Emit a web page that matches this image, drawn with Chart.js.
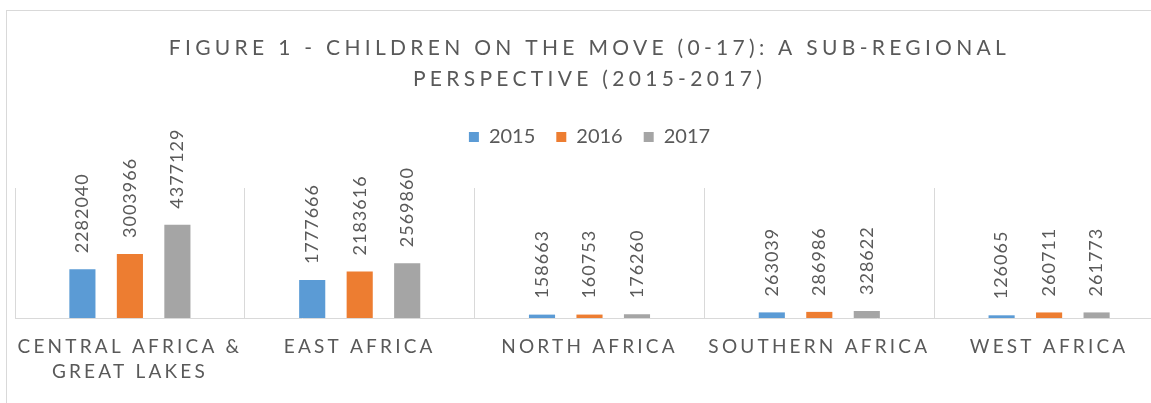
<!DOCTYPE html>
<html>
<head>
<meta charset="utf-8">
<script src="https://cdn.jsdelivr.net/npm/chart.js@4"></script>
<style>
  html, body { margin: 0; padding: 0; background: #fff; overflow: hidden; }
  .frame {
    position: absolute; left: 6px; top: 10px;
    width: 1200px; height: 450px;
    border: 1px solid #d9d9d9;
  }
  canvas { display: block; }
</style>
</head>
<body>
<div class="frame">
  <canvas id="chart" width="1165" height="392"></canvas>
</div>
<script>
const categories = [['CENTRAL AFRICA &', 'GREAT LAKES'], 'EAST AFRICA', 'NORTH AFRICA', 'SOUTHERN AFRICA', 'WEST AFRICA'];
const years = ['2015', '2016', '2017'];
const values2015 = [2282040, 1777666, 158663, 263039, 126065];
const values2016 = [3003966, 2183616, 160753, 286986, 260711];
const values2017 = [4377129, 2569860, 176260, 328622, 261773];
const colors = ['#5B9BD5', '#ED7D31', '#A5A5A5'];
const titleLines = ['FIGURE 1 - CHILDREN ON THE MOVE (0-17): A SUB-REGIONAL', 'PERSPECTIVE (2015-2017)'];

const FONT = 'Lato, "Open Sans", sans-serif';
const GREY = '#595959';

// letter spacing per box: the canvas api has it, chart.js options don't
const spacing = {
  id: 'spacing',
  beforeInit(chart) {
    const legend = chart.legend;
    const fit = legend.fit;
    legend.fit = function () { fit.call(this); this.height += 31; };
    const wrap = (box, px) => {
      const draw = box.draw;
      box.draw = function (...args) {
        const c = this.ctx;
        c.save();
        c.letterSpacing = px;
        draw.apply(this, args);
        c.restore();
      };
    };
    wrap(legend, '0px');
    wrap(chart.titleBlock, '4.3px');
  },
  beforeDraw(chart) {
    chart.ctx.save();
    chart.ctx.letterSpacing = '3.2px';
  },
  afterDraw(chart) {
    chart.ctx.restore();
  },
};

const barLabels = {
  id: 'barLabels',
  afterDatasetsDraw(chart) {
    const ctx = chart.ctx;
    chart.data.datasets.forEach((ds, i) => {
      chart.getDatasetMeta(i).data.forEach((bar, j) => {
        ctx.save();
        ctx.letterSpacing = '1px';
        ctx.font = '18px ' + FONT;
        ctx.fillStyle = GREY;
        ctx.textAlign = 'left';
        ctx.textBaseline = 'middle';
        ctx.translate(bar.x, bar.y - 16);
        ctx.rotate(-Math.PI / 2);
        ctx.fillText(String(ds.data[j]), 0, 0);
        ctx.restore();
      });
    });
  },
};

new Chart(document.getElementById('chart'), {
  type: 'bar',
  data: {
    labels: categories,
    datasets: [
      { label: years[0], data: values2015, backgroundColor: colors[0] },
      { label: years[1], data: values2016, backgroundColor: colors[1] },
      { label: years[2], data: values2017, backgroundColor: colors[2] },
    ],
  },
  options: {
    responsive: false,
    animation: false,
    categoryPercentage: 0.62,
    barPercentage: 0.55,
    layout: { padding: { left: 8, right: 8, top: 0, bottom: 3 } },
    plugins: {
      title: {
        display: true,
        text: titleLines,
        color: GREY,
        font: { family: FONT, size: 21, weight: 'normal', lineHeight: 31 / 21 },
        padding: { top: 22, bottom: 11 },
      },
      legend: {
        position: 'top',
        labels: {
          boxWidth: 10,
          boxHeight: 10,
          padding: 21,
          color: GREY,
          font: { family: FONT, size: 20 },
        },
      },
      tooltip: { enabled: false },
    },
    scales: {
      x: {
        grid: { color: '#d9d9d9', drawTicks: false },
        border: { color: '#d9d9d9' },
        ticks: {
          color: GREY,
          padding: 16,
          autoSkip: false,
          maxRotation: 0,
          font: { family: FONT, size: 19, lineHeight: 25 / 19 },
        },
      },
      y: {
        display: false,
        min: 0,
        max: 6100000,
      },
    },
  },
  plugins: [spacing, barLabels],
});
</script>
</body>
</html>
